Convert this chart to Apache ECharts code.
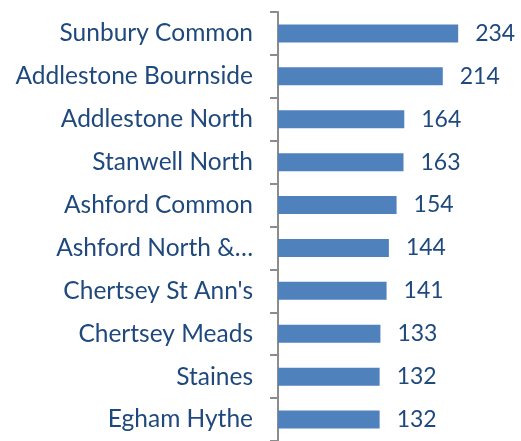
<!DOCTYPE html>
<html>
<head>
<meta charset="utf-8">
<script src="https://cdn.jsdelivr.net/npm/echarts@6/dist/echarts.min.js"></script>
<style>
html,body{margin:0;padding:0;background:#fff;}
#chart{width:521px;height:441px;}
</style>
</head>
<body>
<div id="chart"></div>
<script>
// wards, top to bottom
var wards = ['Sunbury Common', 'Addlestone Bournside', 'Addlestone North', 'Stanwell North',
	'Ashford Common', 'Ashford North &\u2026', "Chertsey St Ann's", 'Chertsey Meads', 'Staines', 'Egham Hythe'];
var counts = [234, 214, 164, 163, 154, 144, 141, 133, 132, 132];

var textColor = '#1F497D';
var myChart = echarts.init(document.getElementById('chart'));
var option = {
	animation: false,
	grid: {
		left: 278,
		top: 12,
		width: 231,
		height: 437
	},
	xAxis: {
		type: 'value',
		min: 0,
		max: 300,
		show: false
	},
	yAxis: {
		type: 'category',
		inverse: true,
		data: wards,
		axisLine: { show: true, lineStyle: { color: '#8C8C8C', width: 2 } },
		axisTick: { show: true, alignWithLabel: false, interval: 0, length: 8, lineStyle: { color: '#8C8C8C', width: 2 } },
		axisLabel: {
			margin: 25,
			color: textColor,
			fontFamily: 'Lato',
			fontSize: 24.5,
			padding: [4, 0, 0, 0]
		}
	},
	series: [{
		type: 'bar',
		data: counts,
		barWidth: 18,
		itemStyle: { color: '#4F81BD' },
		label: {
			show: true,
			position: 'right',
			distance: 17,
			color: textColor,
			fontFamily: 'Lato',
			fontSize: 23,
			padding: [5, 0, 0, 0]
		}
	}]
};
myChart.setOption(option);
</script>
</body>
</html>
